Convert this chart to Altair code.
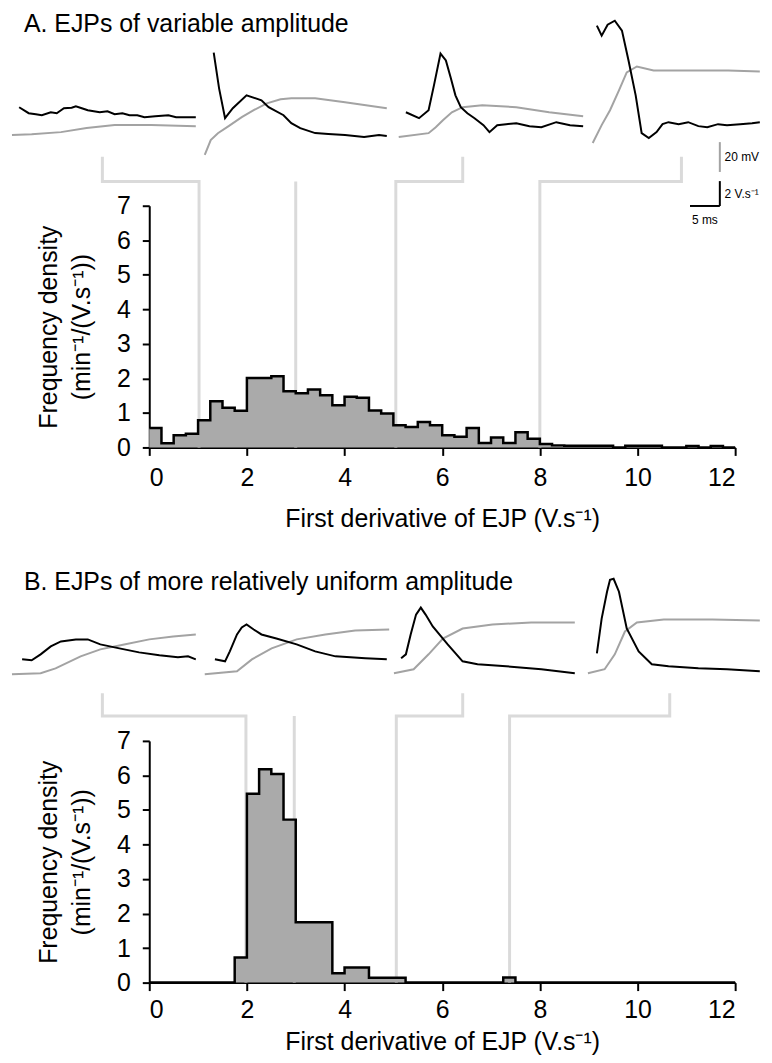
import altair as alt
import pandas as pd

FONT = "Liberation Sans"

# ---------------- histogram data (bin width 0.25 V/s, 0..12) ----------------
bin_edges = [i * 0.25 for i in range(49)]
hist_a = [0.56, 0.12, 0.35, 0.40, 0.79, 1.34, 1.15, 1.06, 2.01, 2.01, 2.06, 1.63,
          1.57, 1.68, 1.51, 1.22, 1.47, 1.44, 1.07, 0.98, 0.64, 0.59, 0.74, 0.64,
          0.35, 0.31, 0.56, 0.13, 0.29, 0.13, 0.44, 0.25, 0.10, 0.06, 0.05, 0.05,
          0.05, 0.05, 0.00, 0.05, 0.05, 0.05, 0.00, 0.00, 0.04, 0.00, 0.04, 0.00]
hist_b = [0, 0, 0, 0, 0, 0, 0, 0.73, 5.47, 6.18, 6.04, 4.72,
          1.75, 1.75, 1.75, 0.27, 0.44, 0.44, 0.14, 0.14, 0.14, 0, 0, 0,
          0, 0, 0, 0, 0, 0.15, 0, 0, 0, 0, 0, 0,
          0, 0, 0, 0, 0, 0, 0, 0, 0, 0, 0, 0]

x_ticks = [0, 2, 4, 6, 8, 10, 12]
y_ticks = [0, 1, 2, 3, 4, 5, 6, 7]

# connector paths (x in V/s, y in density units, extending above the axis)
conn_a_x = [[-0.96, -0.96, 1.02, 1.02], [3.0, 3.0], [6.42, 6.42, 5.05, 5.05], [10.90, 10.90, 8.0, 8.0]]
conn_a_y = [[8.42, 7.70, 7.70, 0.0], [7.70, 0.0], [8.42, 7.70, 7.70, 0.0], [8.42, 7.70, 7.70, 0.0]]
conn_b_x = [[-0.96, -0.96, 1.98, 1.98], [2.97, 2.97], [6.42, 6.42, 5.06, 5.06], [10.66, 10.66, 7.38, 7.38]]
conn_b_y = [[8.38, 7.72, 7.72, 0.0], [7.72, 0.0], [8.38, 7.72, 7.72, 0.0], [8.38, 7.72, 7.72, 0.0]]

# ---------------- example traces: time (ms), dV/dt (V/s) black, V (mV) gray ----------------
a1_bt = [1.2, 2.8, 4.0, 5.0, 6.5, 7.5, 8.7, 10.0, 10.7, 11.7, 12.7, 14.7, 16.0, 17.2, 18.5, 19.7, 21.0, 22.2, 24.0, 26.2, 27.5, 28.7, 30.8]
a1_bv = [1.04, 0.56, 0.48, 0.40, 0.64, 0.56, 0.96, 1.0, 1.12, 0.96, 0.80, 0.64, 0.72, 0.48, 0.56, 0.40, 0.40, 0.24, 0.32, 0.40, 0.24, 0.24, 0.24]
a1_gt = [0, 3.3, 8.2, 12.5, 17.2, 23.3, 30.8]
a1_gv = [10, 10.5, 12, 14.7, 16.7, 16.7, 16.0]
a2_bt = [33.8, 34.7, 35.7, 37.0, 39.3, 41.8, 43.0, 45.5, 46.8, 48.3, 50.8, 53.0, 55.8, 59.0, 61.5, 62.8]
a2_bv = [5.44, 2.56, 0.16, 0.96, 2.0, 1.6, 1.04, 0.4, -0.24, -0.64, -1.04, -1.12, -1.2, -1.36, -1.2, -1.28]
a2_gt = [32.3, 33.3, 34.5, 36.3, 38.5, 40.5, 42.7, 45.0, 46.8, 50.8, 55.8, 62.8]
a2_gv = [-3.3, 6.7, 11.3, 16, 22, 26.7, 31.3, 34, 34.7, 34.7, 32, 28]
a3_bt = [66.0, 68.2, 69.8, 70.7, 71.8, 72.7, 73.5, 74.3, 75.2, 76.3, 77.5, 79.0, 80.0, 81.3, 82.8, 84.5, 86.7, 88.7, 91.2, 93.5, 95.7]
a3_bv = [0.64, 0.16, 0.8, 2.8, 5.36, 4.8, 3.44, 2.0, 1.04, 0.56, 0.16, -0.4, -0.96, -0.4, -0.32, -0.24, -0.48, -0.56, -0.16, -0.4, -0.48]
a3_gt = [64.8, 69.8, 71.0, 72.2, 73.7, 75.5, 78.8, 84.5, 90.0, 95.7]
a3_gv = [8.7, 11.3, 15.3, 20, 25.3, 28.7, 30, 28.7, 25.3, 22.7]
a4_bt = [98.0, 98.8, 99.8, 101.0, 102.2, 103.3, 104.5, 105.5, 106.7, 108.0, 109.0, 110.0, 111.7, 113.3, 115.0, 116.5, 118.3, 119.8, 122.0, 124.0, 125.3]
a4_bv = [7.6, 6.8, 7.68, 8.0, 7.2, 4.8, 2.0, -1.04, -1.44, -0.96, -0.32, -0.16, -0.32, -0.16, -0.48, -0.56, -0.32, -0.4, -0.32, -0.24, -0.16]
a4_gt = [97.3, 98.8, 100.2, 101.7, 103.0, 104.7, 107.5, 113.3, 120.0, 125.3]
a4_gv = [4.7, 16.7, 26.7, 40, 52, 56, 53.3, 53.3, 53.3, 52.7]

b1_bt = [1.7, 3.3, 4.8, 6.5, 8.2, 10.7, 12.7, 14.8, 18.0, 21.3, 24.7, 27.8, 29.5, 30.8]
b1_bv = [0.16, 0.08, 0.56, 1.2, 1.6, 1.76, 1.76, 1.36, 1.04, 0.72, 0.48, 0.32, 0.4, 0.16]
b1_gt = [0, 4.8, 7.3, 11.5, 14.8, 18.8, 23.0, 27.0, 30.8]
b1_gv = [1.3, 2, 5.3, 13.3, 18, 21.3, 24.7, 26.7, 28]
b2_bt = [34.0, 35.7, 36.5, 37.7, 38.5, 39.3, 40.5, 41.8, 44.3, 47.7, 50.8, 54.2, 59.2, 62.8]
b2_bv = [0.16, 0, 0.8, 2.16, 2.72, 2.96, 2.56, 2.16, 1.84, 1.36, 0.8, 0.4, 0.24, 0.16]
b2_gt = [32.3, 37.7, 40.2, 43.5, 47.7, 52.5, 57.5, 63.2]
b2_gv = [1.3, 3.3, 11.3, 18.7, 24.7, 28, 30.7, 31.3]
b3_bt = [65.2, 66.0, 66.8, 67.7, 68.5, 69.3, 70.5, 73.0, 75.5, 78.0, 82.8, 88.7, 94.3]
b3_bv = [0.24, 0.56, 2.16, 3.76, 4.32, 3.76, 2.8, 1.36, 0, -0.24, -0.4, -0.64, -0.96]
b3_gt = [64.0, 67.3, 69.8, 72.2, 75.5, 80.5, 87.0, 94.3]
b3_gv = [2, 4.7, 14.7, 25.3, 32, 34.7, 36, 36]
b4_bt = [98.0, 98.8, 99.7, 100.2, 100.8, 101.7, 103.0, 105.0, 107.2, 110.0, 115.0, 119.8, 125.3]
b4_bv = [0.64, 3.44, 5.6, 6.56, 6.64, 5.6, 2.64, 0.8, -0.24, -0.4, -0.56, -0.64, -0.8]
b4_gt = [96.5, 99.3, 101.0, 102.7, 104.7, 109.2, 117.3, 125.3]
b4_gv = [2, 4.7, 14.7, 30, 36, 38, 38, 37.3]

# scale bars: 5 ms, 2 V/s, 20 mV
bar_t = 118.6
bar_ms = [113.6, 118.6]
bar_vs = [-4.9, -6.9]
bar_mv = [5.3, -14.7]

GRAY_FILL = "#aaaaaa"
TRACE_GRAY = "#a3a3a3"
CONN = "#dadada"


def hist_df(vals):
    return pd.DataFrame({"x": bin_edges, "y": list(vals) + [0.0]})


def conn_df(xs, ys):
    rows = []
    for p, (px, py) in enumerate(zip(xs, ys)):
        for o, (x, y) in enumerate(zip(px, py)):
            rows.append({"path": p, "o": o, "x": x, "y": y})
    return pd.DataFrame(rows)


def trace_df(traces):
    rows = []
    for name, ts, vs in traces:
        for t, v in zip(ts, vs):
            rows.append({"id": name, "t": t, "v": v})
    return pd.DataFrame(rows)


T_SCALE = dict(domain=[0, 127], range=[-138, 624])


def panel(title, title_dy, hvals, cx, cy, blacks, grays, black_rng, gray_rng, bars,
          x_lpad, x_tpad):
    hx = alt.Scale(domain=[0, 12], nice=False)
    hy = alt.Scale(domain=[0, 7], nice=False)
    xaxis = alt.Axis(values=x_ticks, title="First derivative of EJP (V.s\u207b\u00b9)",
                     labelPadding=x_lpad, titlePadding=x_tpad, labelOverlap=False)
    yaxis = alt.Axis(values=y_ticks, title=["Frequency density", "(min\u207b\u00b9/(V.s\u207b\u00b9))"],
                     labelPadding=12, titlePadding=22, titleLineHeight=33, tickSize=7,
                     labelOverlap=False)
    hd = hist_df(hvals)
    enc_x = alt.X("x:Q", scale=hx, axis=xaxis)
    enc_y = alt.Y("y:Q", scale=hy, axis=yaxis)
    conn = alt.Chart(conn_df(cx, cy)).mark_line(color=CONN, strokeWidth=3).encode(
        x=enc_x, y=enc_y, detail="path:N", order="o:Q")
    area = alt.Chart(hd).mark_area(interpolate="step-after", color=GRAY_FILL).encode(
        x=enc_x, y=enc_y)
    outline = alt.Chart(hd).mark_line(interpolate="step-after", color="black", strokeWidth=2.5).encode(
        x=enc_x, y=enc_y)
    hist = alt.layer(conn, area, outline)

    tsc = alt.Scale(**T_SCALE)
    bsc = alt.Scale(domain=[0, 8], range=black_rng)
    gsc = alt.Scale(domain=[0, 60], range=gray_rng)
    gl = alt.Chart(trace_df(grays)).mark_line(color=TRACE_GRAY, strokeWidth=2).encode(
        x=alt.X("t:Q", scale=tsc, axis=None), y=alt.Y("v:Q", scale=gsc, axis=None), detail="id:N")
    bl = alt.Chart(trace_df(blacks)).mark_line(color="black", strokeWidth=2).encode(
        x=alt.X("t:Q", scale=tsc, axis=None), y=alt.Y("v:Q", scale=bsc, axis=None), detail="id:N")
    layers = [gl, bl]
    if bars:
        gbar = alt.Chart(pd.DataFrame({"t": [bar_t], "v": [bar_mv[0]], "v2": [bar_mv[1]]})).mark_rule(
            color=TRACE_GRAY, strokeWidth=2).encode(
            x=alt.X("t:Q", scale=tsc, axis=None), y=alt.Y("v:Q", scale=gsc, axis=None), y2="v2:Q")
        bvbar = alt.Chart(pd.DataFrame({"t": [bar_t], "v": [bar_vs[0]], "v2": [bar_vs[1]]})).mark_rule(
            color="black", strokeWidth=2).encode(
            x=alt.X("t:Q", scale=tsc, axis=None), y=alt.Y("v:Q", scale=bsc, axis=None), y2="v2:Q")
        bhbar = alt.Chart(pd.DataFrame({"t": [bar_ms[0]], "t2": [bar_ms[1]], "v": [bar_vs[1]]})).mark_rule(
            color="black", strokeWidth=2).encode(
            x=alt.X("t:Q", scale=tsc, axis=None), x2="t2:Q", y=alt.Y("v:Q", scale=bsc, axis=None))
        glab = alt.Chart(pd.DataFrame({"t": [bar_t + 0.8], "v": [(bar_mv[0] + bar_mv[1]) / 2], "s": ["20 mV"]})).mark_text(
            align="left", baseline="middle", fontSize=12, font=FONT, color="black").encode(
            x=alt.X("t:Q", scale=tsc, axis=None), y=alt.Y("v:Q", scale=gsc, axis=None), text="s:N")
        blab = alt.Chart(pd.DataFrame({"t": [bar_t + 0.8], "v": [(bar_vs[0] + bar_vs[1]) / 2], "s": ["2 V.s\u207b\u00b9"]})).mark_text(
            align="left", baseline="middle", fontSize=12, font=FONT, color="black").encode(
            x=alt.X("t:Q", scale=tsc, axis=None), y=alt.Y("v:Q", scale=bsc, axis=None), text="s:N")
        mlab = alt.Chart(pd.DataFrame({"t": [(bar_ms[0] + bar_ms[1]) / 2], "v": [-8.0], "s": ["5 ms"]})).mark_text(
            align="center", baseline="middle", fontSize=12, font=FONT, color="black").encode(
            x=alt.X("t:Q", scale=tsc, axis=None), y=alt.Y("v:Q", scale=bsc, axis=None), text="s:N")
        layers += [gbar, bvbar, bhbar, glab, blab, mlab]
    insets = alt.layer(*layers).resolve_scale(y="independent")

    return alt.layer(hist, insets).resolve_scale(x="independent", y="independent").properties(
        width=589, height=243,
        title=alt.TitleParams(title, anchor="start", frame="group", dx=-126, dy=title_dy, offset=0,
                              baseline="alphabetic", fontSize=25, fontWeight="normal", font=FONT,
                              color="black"))


panel_a = panel("A. EJPs of variable amplitude", 40, hist_a, conn_a_x, conn_a_y,
                [("a1", a1_bt, a1_bv), ("a2", a2_bt, a2_bv), ("a3", a3_bt, a3_bv), ("a4", a4_bt, a4_bv)],
                [("a1", a1_gt, a1_gv), ("a2", a2_gt, a2_gv), ("a3", a3_gt, a3_gv), ("a4", a4_gt, a4_gv)],
                [-86, -186], [-56, -146], True, 10, 16)
panel_b = panel("B. EJPs of more relatively uniform amplitude", 40, hist_b, conn_b_x, conn_b_y,
                [("b1", b1_bt, b1_bv), ("b2", b2_bt, b2_bv), ("b3", b3_bt, b3_bv), ("b4", b4_bt, b4_bv)],
                [("b1", b1_gt, b1_gv), ("b2", b2_gt, b2_gv), ("b3", b3_gt, b3_gv), ("b4", b4_gt, b4_gv)],
                [-80, -180], [-65, -155], False, 7, 7)

chart = alt.vconcat(panel_a, panel_b, spacing=39).properties(
    padding={"left": 0, "top": 1, "right": 0, "bottom": 0}
).configure(font=FONT).configure_view(stroke=None).configure_axis(
    grid=False, domainColor="black", domainWidth=2, tickColor="black", tickWidth=2, tickSize=8,
    labelFontSize=25, labelColor="black", labelFont=FONT, titleFontSize=25, titleFont=FONT,
    titleFontWeight="normal", titleColor="black"
)

chart.save("out.html", embed_options={"renderer": "svg", "actions": False})
